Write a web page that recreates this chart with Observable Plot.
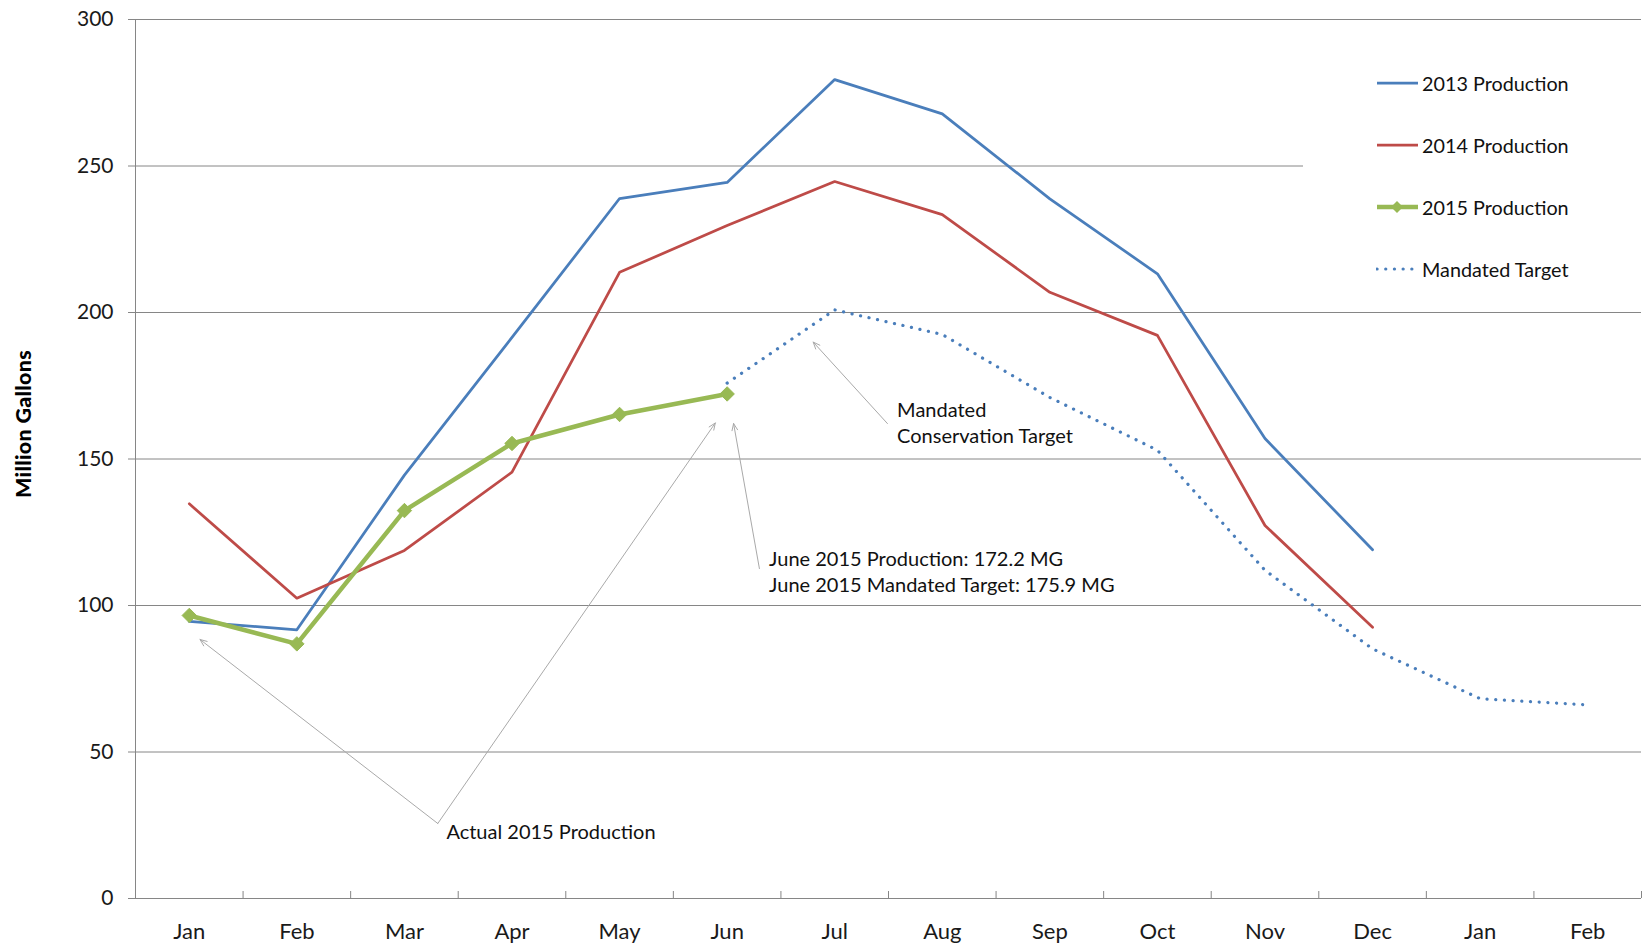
<!DOCTYPE html>
<html>
<head>
<meta charset="utf-8">
<script src="https://cdn.jsdelivr.net/npm/d3@7"></script>
<script src="https://cdn.jsdelivr.net/npm/@observablehq/plot@0.6"></script>
<style>
  html, body { margin: 0; padding: 0; background: #fff; }
  #wrap { position: relative; width: 1648px; height: 945px; font-family: Lato, "Open Sans", sans-serif; }
  #ylabel { position: absolute; left: 23px; top: 424px; transform: translate(-50%, -50%) rotate(-90deg);
            font-weight: 900; font-size: 21.5px; color: #000; white-space: nowrap; letter-spacing: 0.3px; }
  #legend { position: absolute; left: 1303px; top: 40px; width: 345px; height: 262px; background: #fff; }
  .item { position: absolute; left: 73px; height: 26px; display: flex; align-items: center;
          font-size: 19.8px; color: #111; white-space: nowrap; }
  .item svg { margin-right: 3px; }
</style>
</head>
<body>
<div id="wrap"></div>
<script>
// ---- data ----
const months = ["Jan","Feb","Mar","Apr","May","Jun","Jul","Aug","Sep","Oct","Nov","Dec","Jan","Feb"];
const yTicks = [0, 50, 100, 150, 200, 250, 300];
const prod2013 = [94.6, 91.7, 144.5, 191.5, 238.9, 244.4, 279.5, 267.8, 238.8, 213.2, 157.0, 119.0];
const prod2014 = [134.7, 102.5, 118.8, 145.5, 213.7, 229.7, 244.7, 233.4, 206.9, 192.2, 127.3, 92.6];
const prod2015 = [96.6, 86.9, 132.4, 155.3, 165.2, 172.2];
const targetStartMonth = 5; // Jun
const mandatedTarget = [175.9, 200.9, 192.5, 171.0, 153.0, 112.0, 85.2, 68.2, 66.1];
const seriesNames = ["2013 Production", "2014 Production", "2015 Production", "Mandated Target"];

// annotations (data coordinates: month index, million gallons)
const annoTexts = [
  {x: 2.39, y: 23.2, text: "Actual 2015 Production"},
  {x: 5.39, y: 111.8, text: "June 2015 Production: 172.2 MG\nJune 2015 Mandated Target: 175.9 MG"},
  {x: 6.58, y: 162.8, text: "Mandated\nConservation Target"}
];
const annoArrows = [
  {x1: 2.31, y1: 25.6, x2: 0.10, y2: 88.4},
  {x1: 2.31, y1: 25.6, x2: 4.89, y2: 162.3},
  {x1: 5.30, y1: 112.6, x2: 5.06, y2: 162.1},
  {x1: 6.49, y1: 162.1, x2: 5.80, y2: 189.9}
];

// ---- build ----
const toPts = (arr, start = 0) => arr.map((v, k) => ({i: start + k, v}));
const d2013 = toPts(prod2013), d2014 = toPts(prod2014), d2015 = toPts(prod2015);
const dTarget = toPts(mandatedTarget, targetStartMonth);
const halfTicks = d3.range(months.length + 1).map(k => k - 0.5);

const colors = {c2013: "#4a7ebb", c2014: "#be4b48", c2015: "#98b954", grid: "#868686", anno: "#a9a9a9"};

const chart = Plot.plot({
  width: 1648, height: 945,
  marginLeft: 135, marginRight: 7, marginTop: 19, marginBottom: 47,
  style: {fontFamily: "Lato, 'Open Sans', sans-serif", fontSize: "20px", background: "#fff", overflow: "visible"},
  x: {domain: [-0.5, months.length - 0.5]},
  y: {domain: [0, 300]},
  marks: [
    Plot.ruleY(yTicks, {stroke: colors.grid, strokeWidth: 1}),
    Plot.ruleX([-0.5], {stroke: colors.grid, strokeWidth: 1}),
    Plot.axisY(yTicks, {tickSize: 7, tickPadding: 15, stroke: colors.grid, fill: "#1a1a1a", fontSize: 21, label: null, tickFormat: d => d}),
    Plot.axisX(d3.range(months.length), {tickSize: 0, tickPadding: 25, tickFormat: i => months[i], fill: "#1a1a1a", fontSize: 22, label: null}),
    Plot.axisX(halfTicks, {tickSize: 7, dy: -7, tickFormat: () => "", stroke: colors.grid, label: null}),
    Plot.arrow(annoArrows, {x1: "x1", y1: "y1", x2: "x2", y2: "y2", stroke: colors.anno, strokeWidth: 1, headLength: 11, headAngle: 45}),
    Plot.text(annoTexts, {x: "x", y: "y", text: "text", textAnchor: "start", lineAnchor: "middle", lineHeight: 1.3, fontSize: 20, fill: "#111"}),
    Plot.line(d2013, {x: "i", y: "v", stroke: colors.c2013, strokeWidth: 2.75}),
    Plot.line(d2014, {x: "i", y: "v", stroke: colors.c2014, strokeWidth: 2.75}),
    Plot.line(dTarget, {x: "i", y: "v", stroke: colors.c2013, strokeWidth: 3.2, strokeDasharray: "0.1 8.6", strokeLinecap: "round"}),
    Plot.line(d2015, {x: "i", y: "v", stroke: colors.c2015, strokeWidth: 4.5}),
    Plot.dot(d2015, {x: "i", y: "v", symbol: "diamond2", r: 6.5, fill: colors.c2015, stroke: colors.c2015, strokeWidth: 1})
  ]
});

const wrap = document.getElementById("wrap");
wrap.appendChild(chart);

const yl = document.createElement("div");
yl.id = "ylabel"; yl.textContent = "Million Gallons";
wrap.appendChild(yl);

// legend
const legend = document.createElement("div");
legend.id = "legend";
const legendStyles = [
  {stroke: colors.c2013, width: 2.75},
  {stroke: colors.c2014, width: 2.75},
  {stroke: colors.c2015, width: 4.5, marker: true},
  {stroke: colors.c2013, width: 3.2, dotted: true}
];
const itemTops = [30, 92, 154, 216];
seriesNames.forEach((name, k) => {
  const st = legendStyles[k];
  const it = document.createElement("div");
  it.className = "item";
  it.style.top = itemTops[k] + "px";
  const svg = d3.create("svg").attr("width", 43).attr("height", 16);
  svg.append("line").attr("x1", 1).attr("x2", 42).attr("y1", 8).attr("y2", 8)
    .attr("stroke", st.stroke).attr("stroke-width", st.width)
    .attr("stroke-dasharray", st.dotted ? "0.1 8.6" : null)
    .attr("stroke-linecap", st.dotted ? "round" : "butt");
  if (st.marker) svg.append("path").attr("d", "M21,2 L27,8 L21,14 L15,8 Z").attr("fill", st.stroke);
  it.appendChild(svg.node());
  const span = document.createElement("span");
  span.textContent = name;
  it.appendChild(span);
  legend.appendChild(it);
});
wrap.appendChild(legend);
</script>
</body>
</html>
